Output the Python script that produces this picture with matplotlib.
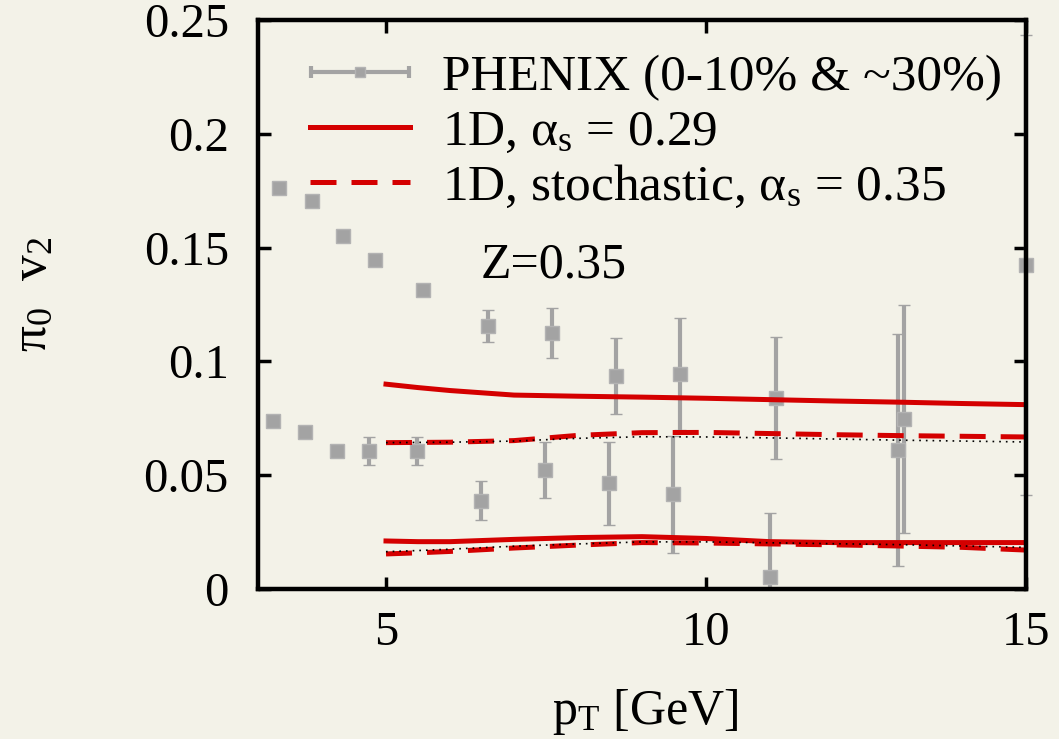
import numpy as np
import matplotlib
matplotlib.use('Agg')
import matplotlib.pyplot as plt
from matplotlib.lines import Line2D
from matplotlib.legend_handler import HandlerErrorbar

plt.rcParams['font.family'] = ['Liberation Serif', 'DejaVu Serif']
plt.rcParams['mathtext.fontset'] = 'custom'
plt.rcParams['mathtext.rm'] = 'Liberation Serif'
plt.rcParams['mathtext.it'] = 'Liberation Serif:italic'

# PHENIX data, two centralities
ph_hi_x = [3.33, 3.84, 4.33, 4.83, 5.58, 6.59, 7.59, 8.59, 9.59, 11.1, 13.1, 15.0]
ph_hi_y = [0.176, 0.1705, 0.1552, 0.1445, 0.1314, 0.1157, 0.1123, 0.0936, 0.0945, 0.0839, 0.0747, 0.1425]
ph_hi_e = [0.001, 0.001, 0.0015, 0.002, 0.002, 0.007, 0.011, 0.0168, 0.0245, 0.027, 0.050, 0.101]

ph_lo_x = [3.23, 3.73, 4.24, 4.74, 5.49, 6.49, 7.49, 8.49, 9.49, 11.0, 13.0]
ph_lo_y = [0.0740, 0.0689, 0.0606, 0.0606, 0.0606, 0.0388, 0.0523, 0.0464, 0.0417, 0.0053, 0.0611]
ph_lo_e = [0.001, 0.001, 0.002, 0.006, 0.006, 0.0086, 0.0123, 0.0182, 0.0257, 0.028, 0.0508]

# model curves
pt = [5, 5.5, 6, 7, 8, 9, 10, 11, 12, 13, 14, 15]
solid_hi = [0.0900, 0.0885, 0.0872, 0.0852, 0.0847, 0.0843, 0.0838, 0.0832, 0.0826, 0.0821, 0.0815, 0.0810]
solid_lo = [0.0211, 0.0208, 0.0208, 0.0218, 0.0226, 0.0230, 0.0222, 0.0208, 0.0204, 0.0204, 0.0204, 0.0204]
stoch_hi = [0.0643, 0.0644, 0.0645, 0.0652, 0.0675, 0.0687, 0.0688, 0.0683, 0.0678, 0.0674, 0.0671, 0.0668]
stoch_lo = [0.0154, 0.0159, 0.0165, 0.0180, 0.0193, 0.0204, 0.0202, 0.0198, 0.0194, 0.0189, 0.0183, 0.0171]
dot_hi = [0.0643, 0.0644, 0.0645, 0.0650, 0.0662, 0.0669, 0.0668, 0.0664, 0.0659, 0.0654, 0.0650, 0.0646]
dot_lo = [0.0164, 0.0169, 0.0175, 0.0188, 0.0198, 0.0207, 0.0207, 0.0203, 0.0199, 0.0195, 0.0189, 0.0183]

bg = '#f3f2e8'
grey = '#a3a3a3'
red = '#d40000'

fig = plt.figure(figsize=(10.59, 7.39), dpi=100, facecolor=bg)
ax = fig.add_axes([258/1059, 1-589/739, (1026-258)/1059, (589-20)/739])
ax.set_facecolor(bg)

eb_style = dict(fmt='s', color=grey, ms=10.5, mec='#b3b3b3', mew=1,
                elinewidth=3, capsize=4, capthick=3, zorder=2)
ax.errorbar(ph_hi_x, ph_hi_y, yerr=ph_hi_e, clip_on=False, **eb_style)
ax.errorbar(ph_lo_x, ph_lo_y, yerr=ph_lo_e, **eb_style)
# proxy for legend (horizontal bar with caps)
proxy = ax.errorbar([np.nan], [np.nan], xerr=[0.1], fmt='s', color=grey, ms=7,
                    mec='#b3b3b3', elinewidth=3, capsize=4, capthick=3)

ax.plot(pt, solid_hi, color=red, lw=3.6, zorder=3)
ax.plot(pt, solid_lo, color=red, lw=3.6, zorder=3)
ax.plot(pt, stoch_hi, color=red, lw=3.6, dashes=(5.2, 3.0), zorder=3)
ax.plot(pt, stoch_lo, color=red, lw=3.6, dashes=(5.2, 3.0), zorder=3)
ax.plot(pt, dot_hi, color='black', lw=1.2, dashes=(1, 3), zorder=4)
ax.plot(pt, dot_lo, color='black', lw=1.2, dashes=(1, 3), zorder=4)

ax.set_xlim(3, 15)
ax.set_ylim(0, 0.25)
ax.set_xticks([5, 10, 15])
ax.set_yticks([0, 0.05, 0.1, 0.15, 0.2, 0.25])
ax.set_yticklabels(['0', '0.05', '0.1', '0.15', '0.2', '0.25'])
ax.tick_params(axis='both', direction='in', length=9, width=2.5, labelsize=35,
               top=True, right=True)
ax.tick_params(axis='y', pad=21)
ax.tick_params(axis='x', pad=16)
for s in ax.spines.values():
    s.set_linewidth(3.2)
    s.set_zorder(5)

ax.set_xlabel('p$_\\mathrm{T}$ [GeV]', fontsize=36)
ax.set_ylabel('π$_0$  v$_2$', fontsize=37)
ax.xaxis.set_label_coords(0.504, -0.172)
ax.yaxis.set_label_coords(-0.262, 0.517)

ax.text(6.48, 0.1424, 'Z=0.35', fontsize=36, va='center', ha='left')

h_solid = Line2D([], [], color=red, lw=3.6)
h_dash = Line2D([], [], color=red, lw=3.6, dashes=(5.2, 3.0))
leg = ax.legend([proxy, h_solid, h_dash],
                ['PHENIX (0-10% & ~30%)', '1D, α$_\\mathrm{s}$ = 0.29',
                 '1D, stochastic, α$_\\mathrm{s}$ = 0.35'],
                handler_map={proxy: HandlerErrorbar(xerr_size=0.96)},
                loc='upper left', bbox_to_anchor=(0.068, 0.94), frameon=False,
                fontsize=37, handlelength=1.94, handletextpad=0.62,
                labelspacing=0.15, borderpad=0, borderaxespad=0)

fig.savefig('out.png', dpi=100, facecolor=bg)
